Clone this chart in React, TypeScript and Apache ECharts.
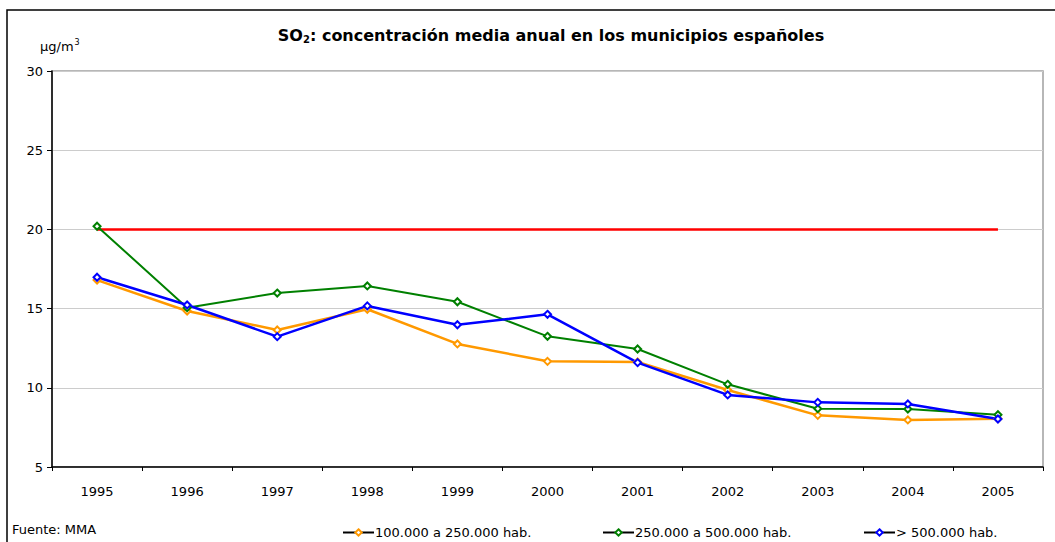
import React, { useEffect, useRef } from "react";
import * as echarts from "echarts";

const years = ["1995", "1996", "1997", "1998", "1999", "2000", "2001", "2002", "2003", "2004", "2005"];
const pop100to250 = [16.8, 14.85, 13.65, 14.96, 12.77, 11.67, 11.63, 9.86, 8.26, 7.97, 8.05];
const pop250to500 = [20.2, 15.06, 15.98, 16.43, 15.43, 13.25, 12.45, 10.22, 8.68, 8.66, 8.3];
const popOver500 = [16.98, 15.23, 13.23, 15.17, 13.98, 14.64, 11.59, 9.55, 9.08, 8.98, 8.03];
const limitValue = [20, 20, 20, 20, 20, 20, 20, 20, 20, 20, 20];
const seriesNames = ["100.000 a 250.000 hab.", "250.000 a 500.000 hab.", "> 500.000 hab."];
const yTicks = [5, 10, 15, 20, 25, 30];

const FONT = "'DejaVu Sans', 'Liberation Sans', Arial, sans-serif";

export default function App() {
  const ref = useRef<HTMLDivElement>(null);
  useEffect(() => {
    if (!ref.current) return;
    const chart = echarts.init(ref.current, undefined, { renderer: "svg" });
    const mk = (name: string, data: number[], color: string, width: number) => ({
      name,
      type: "line",
      data,
      symbol: "emptyDiamond",
      symbolSize: 7,
      showSymbol: true,
      lineStyle: { color, width },
      itemStyle: { color, borderColor: color, borderWidth: 1.2 },
      z: 3,
    });
    const legendBase = {
      bottom: 3,
      itemWidth: 31,
      itemHeight: 8,
      itemGap: 0,
      padding: 0,
      textStyle: { fontFamily: FONT, fontSize: 13, color: "#000", padding: [0, 0, 0, -4] },
      lineStyle: { color: "#000", width: 2 },
    };
    chart.setOption({
      animation: false,
      backgroundColor: "#fff",
      textStyle: { fontFamily: FONT },
      title: {
        text: "{b|SO}{s|2}{b|: concentración media anual en los municipios españoles}",
        left: 546,
        textAlign: "center",
        top: 22,
        textStyle: {
          rich: {
            b: { fontFamily: FONT, fontSize: 16, fontWeight: "bold", color: "#000" },
            s: { fontFamily: FONT, fontSize: 10, fontWeight: "bold", color: "#000", verticalAlign: "bottom", padding: [7, 0, 0, 0] },
          },
        },
      },
      grid: {
        left: 52,
        right: 12,
        top: 71,
        bottom: 75,
        show: true,
        borderColor: "#a0a0a0",
        borderWidth: 1.5,
        containLabel: false,
      },
      xAxis: {
        type: "category",
        data: years,
        boundaryGap: true,
        axisLine: { lineStyle: { color: "#000", width: 1.5 } },
        axisTick: { show: true, interval: 0, length: 4, inside: false, lineStyle: { color: "#000" } },
        axisLabel: { color: "#000", fontSize: 13, margin: 18, fontFamily: FONT },
        splitLine: { show: false },
      },
      yAxis: {
        type: "value",
        min: yTicks[0],
        max: yTicks[yTicks.length - 1],
        interval: 5,
        axisLine: { show: true, lineStyle: { color: "#000", width: 1.5 } },
        axisTick: { show: true, length: 5, lineStyle: { color: "#000" } },
        axisLabel: { color: "#000", fontSize: 13, margin: 9, fontFamily: FONT },
        splitLine: { show: true, lineStyle: { color: "#cccccc", width: 1 } },
      },
      legend: [
        { ...legendBase, left: 342, data: [seriesNames[0]] },
        { ...legendBase, left: 602, data: [seriesNames[1]] },
        { ...legendBase, left: 863, data: [seriesNames[2]] },
      ],
      graphic: [
        {
          type: "rect",
          shape: { x: 7, y: 10, width: 1060, height: 545 },
          style: { fill: "none", stroke: "#000", lineWidth: 1.5 },
          silent: true,
          z: -1,
        },
        {
          type: "text",
          left: 40,
          top: 38,
          style: {
            text: "{a|µg/m}{p|3}",
            rich: {
              a: { fontFamily: FONT, fontSize: 13, fill: "#000" },
              p: { fontFamily: FONT, fontSize: 8, fill: "#000", verticalAlign: "top", padding: [0, 0, 8, 1] },
            },
          },
        },
        {
          type: "text",
          left: 12,
          top: 523,
          style: { text: "Fuente: MMA", fontFamily: FONT, fontSize: 13, fill: "#000" },
        },
      ],
      series: [
        {
          name: "limit",
          type: "line",
          data: limitValue,
          symbol: "none",
          lineStyle: { color: "#ff0000", width: 2.5 },
          z: 2,
        },
        mk(seriesNames[0], pop100to250, "#ff9900", 2.5),
        mk(seriesNames[1], pop250to500, "#008000", 2),
        mk(seriesNames[2], popOver500, "#0000ff", 2.5),
      ],
    });
    return () => chart.dispose();
  }, []);
  return <div ref={ref} style={{ width: 1055, height: 542, position: "absolute", left: 0, top: 0 }} />;
}
